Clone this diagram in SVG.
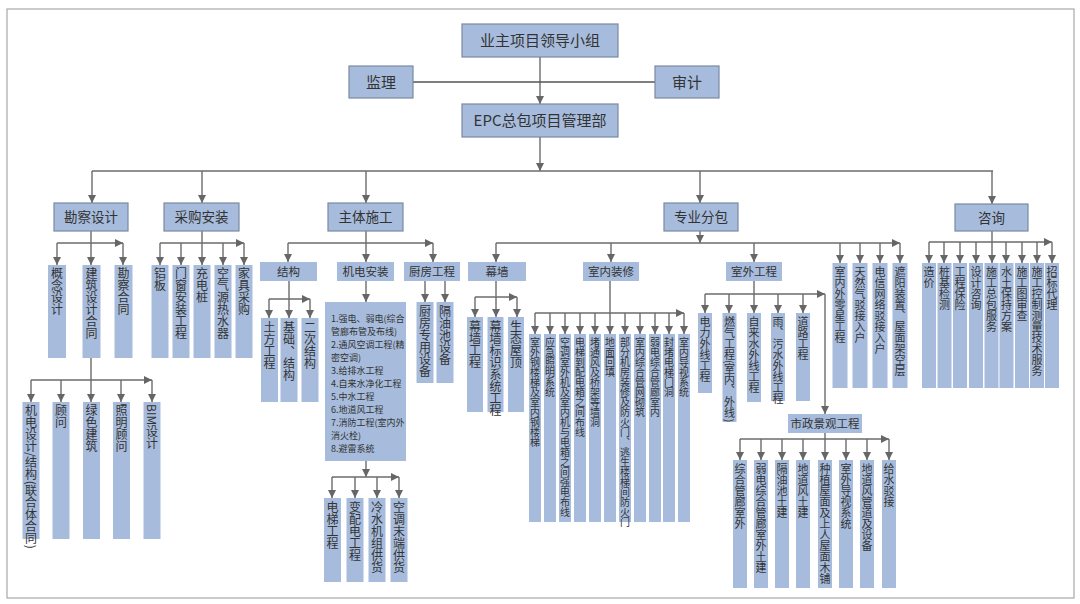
<svg xmlns="http://www.w3.org/2000/svg" width="1080" height="604" viewBox="0 0 1080 604">
<style>
text{font-family:"Noto Sans CJK SC","Noto Sans",sans-serif;fill:#333}
.bb{fill:#a7bcdc;stroke:#7b89a2;stroke-width:1.2}
.sb{fill:#a7bcdc}
.t15{font-size:15px;text-anchor:middle}
.t13{font-size:13.5px;text-anchor:middle}
.t11{font-size:11.5px;text-anchor:middle}
.v12{font-size:12px;writing-mode:vertical-rl}
.v11{font-size:11px;writing-mode:vertical-rl}
.v10{font-size:10px;writing-mode:vertical-rl}
.m9{font-size:9px}
.ln{fill:none;stroke:#6b6b6b;stroke-width:1.4}
.lk{fill:none;stroke:#555;stroke-width:1.6}
</style>
<defs>
<marker id="ar" markerUnits="userSpaceOnUse" markerWidth="8" markerHeight="8" refX="8" refY="4" orient="auto">
<path d="M0,0 L8,4 L0,8 z" fill="#666"/>
</marker>
</defs>
<rect x="0" y="0" width="1080" height="604" fill="#fff"/>
<rect x="7" y="9" width="1067" height="589" fill="none" stroke="#a8a8a8" stroke-width="1.2"/>

<g id="connectors">
<path class="ln" marker-end="url(#ar)" d="M540,57 V104"/>
<path class="lk" d="M413,82 H655"/>
<path class="ln" marker-end="url(#ar)" d="M540,137 V171"/>
<path class="ln" d="M92,171 H993"/>
<g marker-end="url(#ar)">
<path class="ln" d="M92,171 V203"/>
<path class="ln" d="M202,171 V203"/>
<path class="ln" d="M366,171 V203"/>
<path class="ln" d="M700,171 V203"/>
<path class="ln" d="M992,171 V204"/>
<!-- 勘察设计 -->
<path class="ln" d="M91,231 V265"/>
<path class="ln" d="M57,243 H123"/>
<path class="ln" d="M57,243 V265"/>
<path class="ln" d="M123,243 V265"/>
<path class="ln" d="M91,358 V402"/>
<path class="ln" d="M31,380 H152"/>
<path class="ln" d="M31,380 V402"/>
<path class="ln" d="M61,380 V402"/>
<path class="ln" d="M121,380 V402"/>
<path class="ln" d="M152,380 V402"/>
<!-- 采购安装 -->
<path class="ln" d="M202,231 V265"/>
<path class="ln" d="M160,243 H244"/>
<path class="ln" d="M160,243 V265"/>
<path class="ln" d="M181,243 V265"/>
<path class="ln" d="M223,243 V265"/>
<path class="ln" d="M244,243 V265"/>
<!-- 主体施工 -->
<path class="ln" d="M366,231 V262"/>
<path class="ln" d="M288,243 H433"/>
<path class="ln" d="M288,243 V262"/>
<path class="ln" d="M433,243 V262"/>
<path class="ln" d="M289,281 V318"/>
<path class="ln" d="M269,299 H310"/>
<path class="ln" d="M269,299 V318"/>
<path class="ln" d="M310,299 V318"/>
<path class="ln" d="M366,281 V302"/>
<path class="ln" d="M425,281 V302"/>
<path class="ln" d="M445,281 V302"/>
<path class="ln" d="M366,461 V477"/>
<path class="ln" d="M332,477 H399"/>
<path class="ln" d="M332,477 V498"/>
<path class="ln" d="M355,477 V498"/>
<path class="ln" d="M377,477 V498"/>
<path class="ln" d="M399,477 V498"/>
<!-- 专业分包 -->
<path class="ln" d="M700,231 V243"/>
<path class="ln" d="M496,243 H900"/>
<path class="ln" d="M496,243 V262"/>
<path class="ln" d="M611,243 V262"/>
<path class="ln" d="M754,243 V262"/>
<path class="ln" d="M840,243 V263"/>
<path class="ln" d="M860,243 V263"/>
<path class="ln" d="M880,243 V263"/>
<path class="ln" d="M900,243 V263"/>
<path class="ln" d="M496,281 V317"/>
<path class="ln" d="M475,297 H517"/>
<path class="ln" d="M475,297 V317"/>
<path class="ln" d="M517,297 V317"/>
<path class="ln" d="M610,281 V334"/>
<path class="ln" d="M535,313 H684"/>
<path class="ln" d="M535,313 V334"/>
<path class="ln" d="M550,313 V334"/>
<path class="ln" d="M565,313 V334"/>
<path class="ln" d="M580,313 V334"/>
<path class="ln" d="M595,313 V334"/>
<path class="ln" d="M625,313 V334"/>
<path class="ln" d="M640,313 V334"/>
<path class="ln" d="M655,313 V334"/>
<path class="ln" d="M669,313 V334"/>
<path class="ln" d="M684,313 V334"/>
<path class="ln" d="M754,281 V313"/>
<path class="ln" d="M705,294 H825"/>
<path class="ln" d="M705,294 V313"/>
<path class="ln" d="M729,294 V313"/>
<path class="ln" d="M778,294 V313"/>
<path class="ln" d="M803,294 V313"/>
<path class="ln" d="M825,294 V414"/>
<path class="ln" d="M825,433 V460"/>
<path class="ln" d="M740,439 H889"/>
<path class="ln" d="M740,439 V460"/>
<path class="ln" d="M761,439 V460"/>
<path class="ln" d="M782,439 V460"/>
<path class="ln" d="M803,439 V460"/>
<path class="ln" d="M846,439 V460"/>
<path class="ln" d="M867,439 V460"/>
<path class="ln" d="M889,439 V460"/>
<!-- 咨询 -->
<path class="ln" d="M992,231 V263"/>
<path class="ln" d="M929,242 H1052"/>
<path class="ln" d="M929,242 V263"/>
<path class="ln" d="M944,242 V263"/>
<path class="ln" d="M960,242 V263"/>
<path class="ln" d="M976,242 V263"/>
<path class="ln" d="M1006,242 V263"/>
<path class="ln" d="M1022,242 V263"/>
<path class="ln" d="M1037,242 V263"/>
<path class="ln" d="M1052,242 V263"/>
</g>
</g>

<!-- top level -->
<g id="n-owner"><rect class="bb" x="462" y="24" width="156" height="33"/><text class="t15" x="540" y="46">业主项目领导小组</text></g>
<g id="n-jianli"><rect class="bb" x="349" y="66" width="64" height="32"/><text class="t15" x="381" y="87.5">监理</text></g>
<g id="n-shenji"><rect class="bb" x="655" y="66" width="64" height="32"/><text class="t15" x="687" y="87.5">审计</text></g>
<g id="n-epc"><rect class="bb" x="462" y="104" width="156" height="33"/><text class="t15" x="540" y="126">EPC总包项目管理部</text></g>

<g id="n-kcsj"><rect class="bb" x="54" y="203" width="74" height="28"/><text class="t13" x="91" y="222">勘察设计</text></g>
<g id="n-cgaz"><rect class="bb" x="164" y="203" width="75" height="28"/><text class="t13" x="201.5" y="222">采购安装</text></g>
<g id="n-ztsg"><rect class="bb" x="328" y="203" width="75" height="28"/><text class="t13" x="365.5" y="222">主体施工</text></g>
<g id="n-zyfb"><rect class="bb" x="664" y="203" width="74" height="28"/><text class="t13" x="701" y="222">专业分包</text></g>
<g id="n-zx"><rect class="bb" x="955" y="204" width="73" height="27"/><text class="t13" x="991.5" y="222.5">咨询</text></g>

<!-- 勘察设计 children -->
<g id="n-gnsj"><rect class="sb" x="48" y="265" width="18" height="93"/><text class="v12" x="57" y="267">概念设计</text></g>
<g id="n-jzsjht"><rect class="sb" x="82.5" y="265" width="18" height="93"/><text class="v12" x="91.5" y="267">建筑设计合同</text></g>
<g id="n-kcht"><rect class="sb" x="114.5" y="265" width="18" height="93"/><text class="v12" x="123.5" y="267">勘察合同</text></g>
<g id="n-jdsj"><rect class="sb" x="22.5" y="402" width="17" height="137"/><text class="v12" x="31" y="404">机电设计/结构(联合体合同)</text></g>
<g id="n-gw"><rect class="sb" x="52.5" y="402" width="17" height="137"/><text class="v12" x="61" y="404">顾问</text></g>
<g id="n-lsjz"><rect class="sb" x="83" y="402" width="17" height="137"/><text class="v12" x="91.5" y="404">绿色建筑</text></g>
<g id="n-zmgw"><rect class="sb" x="113" y="402" width="17" height="137"/><text class="v12" x="121.5" y="404">照明顾问</text></g>
<g id="n-bim"><rect class="sb" x="143.5" y="402" width="17" height="137"/><text class="v12" x="152" y="404">BIM设计</text></g>

<!-- 采购安装 children -->
<g id="n-lb"><rect class="sb" x="151.5" y="265" width="17" height="93"/><text class="v12" x="160" y="267">铝板</text></g>
<g id="n-mc"><rect class="sb" x="172.5" y="265" width="17" height="93"/><text class="v12" x="181" y="267">门窗安装工程</text></g>
<g id="n-cdz"><rect class="sb" x="193.5" y="265" width="17" height="93"/><text class="v12" x="202" y="267">充电桩</text></g>
<g id="n-kqy"><rect class="sb" x="214.5" y="265" width="17" height="93"/><text class="v12" x="223" y="267">空气源热水器</text></g>
<g id="n-jjcg"><rect class="sb" x="235.5" y="265" width="17" height="93"/><text class="v12" x="244" y="267">家具采购</text></g>

<!-- 主体施工 children -->
<g id="n-jg"><rect class="sb" x="260" y="262" width="57" height="19"/><text class="t11" x="288.5" y="275.5">结构</text></g>
<g id="n-jdaz"><rect class="sb" x="337" y="262" width="57" height="19"/><text class="t11" x="365.5" y="275.5">机电安装</text></g>
<g id="n-cfgc"><rect class="sb" x="404" y="262" width="56" height="19"/><text class="t11" x="432" y="275.5">厨房工程</text></g>
<g id="n-tfgc"><rect class="sb" x="261" y="318" width="17" height="84"/><text class="v12" x="269.5" y="321">土方工程</text></g>
<g id="n-jcjg"><rect class="sb" x="280.5" y="318" width="17" height="84"/><text class="v12" x="289" y="321">基础、结构</text></g>
<g id="n-ecjg"><rect class="sb" x="301.5" y="318" width="17" height="84"/><text class="v12" x="310" y="321">二次结构</text></g>
<g id="n-cfzy"><rect class="sb" x="416.5" y="302" width="17" height="81"/><text class="v12" x="425" y="305">厨房专用设备</text></g>
<g id="n-gyc"><rect class="sb" x="436.5" y="302" width="17" height="81"/><text class="v12" x="445" y="305">隔油池设备</text></g>
<g id="n-jdlist"><rect class="sb" x="325" y="302" width="81" height="159"/>
<text class="m9" x="331" y="321.5">1.强电、弱电(综合</text>
<text class="m9" x="331" y="334.5">管廊布管及布线)</text>
<text class="m9" x="331" y="347.5">2.通风空调工程(精</text>
<text class="m9" x="331" y="360.5">密空调)</text>
<text class="m9" x="331" y="373.5">3.给排水工程</text>
<text class="m9" x="331" y="386.5">4.自来水净化工程</text>
<text class="m9" x="331" y="399.5">5.中水工程</text>
<text class="m9" x="331" y="412.5">6.地道风工程</text>
<text class="m9" x="331" y="425.5">7.消防工程(室内外</text>
<text class="m9" x="331" y="438.5">消火栓)</text>
<text class="m9" x="331" y="451.5">8.避雷系统</text>
</g>
<g id="n-dtgc"><rect class="sb" x="324" y="498" width="17" height="84"/><text class="v12" x="332.5" y="501">电梯工程</text></g>
<g id="n-bpd"><rect class="sb" x="346.5" y="498" width="17" height="84"/><text class="v12" x="355" y="501">变配电工程</text></g>
<g id="n-lsjz2"><rect class="sb" x="368.5" y="498" width="17" height="84"/><text class="v12" x="377" y="501">冷水机组供货</text></g>
<g id="n-ktmd"><rect class="sb" x="390.5" y="498" width="17" height="84"/><text class="v12" x="399" y="501">空调末端供货</text></g>

<!-- 专业分包 children -->
<g id="n-mq"><rect class="sb" x="468" y="262" width="58" height="19"/><text class="t11" x="497" y="275.5">幕墙</text></g>
<g id="n-snzx"><rect class="sb" x="583" y="262" width="56" height="19"/><text class="t11" x="611" y="275.5">室内装修</text></g>
<g id="n-swgc"><rect class="sb" x="726" y="262" width="56" height="19"/><text class="t11" x="754" y="275.5">室外工程</text></g>
<g id="n-snwlx"><rect class="sb" x="832.5" y="263" width="15" height="125"/><text class="v11" x="840" y="266">室内外零星工程</text></g>
<g id="n-trq"><rect class="sb" x="852.5" y="263" width="15" height="125"/><text class="v11" x="860" y="266">天然气驳接入户</text></g>
<g id="n-dxwl"><rect class="sb" x="872.5" y="263" width="15" height="125"/><text class="v11" x="880" y="266">电信网络驳接入户</text></g>
<g id="n-zyzz"><rect class="sb" x="892.5" y="263" width="15" height="125"/><text class="v11" x="900" y="266">遮阳装置、屋面架空层</text></g>

<g id="n-mqgc"><rect class="sb" x="467" y="317" width="16" height="95"/><text class="v12" x="475" y="320">幕墙工程</text></g>
<g id="n-mqbs"><rect class="sb" x="487.5" y="317" width="16" height="95"/><text class="v12" x="495.5" y="320">幕墙标识系统工程</text></g>
<g id="n-stwd"><rect class="sb" x="508" y="317" width="16" height="95"/><text class="v12" x="516" y="320">生态屋顶</text></g>

<g id="n-sn1"><rect class="sb" x="529" y="334" width="12" height="188"/><text class="v10" x="535" y="337">室外钢楼梯及室内钢楼梯</text></g>
<g id="n-sn2"><rect class="sb" x="544" y="334" width="12" height="188"/><text class="v10" x="550" y="337">应急照明系统</text></g>
<g id="n-sn3"><rect class="sb" x="559" y="334" width="12" height="188"/><text class="v10" x="565" y="337">空调室外机及室内机与电箱之间强电布线</text></g>
<g id="n-sn4"><rect class="sb" x="574" y="334" width="12" height="188"/><text class="v10" x="580" y="337">电梯到配电箱之间布线</text></g>
<g id="n-sn5"><rect class="sb" x="589" y="334" width="12" height="188"/><text class="v10" x="595" y="337">堵通风及桥架等墙洞</text></g>
<g id="n-sn6"><rect class="sb" x="604" y="334" width="12" height="188"/><text class="v10" x="610" y="337">地面回填</text></g>
<g id="n-sn7"><rect class="sb" x="619" y="334" width="12" height="188"/><text class="v10" x="625" y="337">部分机房装修及防火门、逃生楼梯间防火门</text></g>
<g id="n-sn8"><rect class="sb" x="634" y="334" width="12" height="188"/><text class="v10" x="640" y="337">室内综合管网砌筑</text></g>
<g id="n-sn9"><rect class="sb" x="649" y="334" width="12" height="188"/><text class="v10" x="655" y="337">弱电综合管廊室内</text></g>
<g id="n-sn10"><rect class="sb" x="663" y="334" width="12" height="188"/><text class="v10" x="669" y="337">封堵电梯门洞</text></g>
<g id="n-sn11"><rect class="sb" x="678" y="334" width="12" height="188"/><text class="v10" x="684" y="337">室内导视系统</text></g>

<g id="n-dlwx"><rect class="sb" x="698" y="313" width="14" height="80"/><text class="v11" x="705" y="316">电力外线工程</text></g>
<g id="n-rqgc"><rect class="sb" x="722.5" y="313" width="14" height="109"/><text class="v11" x="729.5" y="316">燃气工程(室内、外线)</text></g>
<g id="n-zls"><rect class="sb" x="747" y="313" width="14" height="89"/><text class="v11" x="754" y="316">自来水外线工程</text></g>
<g id="n-ywx"><rect class="sb" x="771" y="313" width="14" height="88"/><text class="v11" x="778" y="316">雨、污水外线工程</text></g>
<g id="n-dlgc"><rect class="sb" x="796" y="313" width="14" height="88"/><text class="v11" x="803" y="316">道路工程</text></g>
<g id="n-szjg"><rect class="sb" x="788" y="414" width="74" height="19"/><text class="t11" x="825" y="427.5">市政景观工程</text></g>

<g id="n-sz1"><rect class="sb" x="733" y="460" width="14" height="128"/><text class="v11" x="740" y="463">综合管廊室外</text></g>
<g id="n-sz2"><rect class="sb" x="754" y="460" width="14" height="128"/><text class="v11" x="761" y="463">弱电综合管廊室外土建</text></g>
<g id="n-sz3"><rect class="sb" x="775" y="460" width="14" height="128"/><text class="v11" x="782" y="463">隔油池土建</text></g>
<g id="n-sz4"><rect class="sb" x="796" y="460" width="14" height="128"/><text class="v11" x="803" y="463">地道风土建</text></g>
<g id="n-sz5"><rect class="sb" x="818" y="460" width="14" height="128"/><text class="v11" x="825" y="463">种植屋面及上人屋面木铺</text></g>
<g id="n-sz6"><rect class="sb" x="839" y="460" width="14" height="128"/><text class="v11" x="846" y="463">室外导视系统</text></g>
<g id="n-sz7"><rect class="sb" x="860" y="460" width="14" height="128"/><text class="v11" x="867" y="463">地道风管道及设备</text></g>
<g id="n-sz8"><rect class="sb" x="882" y="460" width="14" height="128"/><text class="v11" x="889" y="463">给水驳接</text></g>

<!-- 咨询 children -->
<g id="n-zj"><rect class="sb" x="922" y="263" width="14" height="125"/><text class="v11" x="929" y="266">造价</text></g>
<g id="n-zjjc"><rect class="sb" x="937.5" y="263" width="14" height="125"/><text class="v11" x="944.5" y="266">桩基检测</text></g>
<g id="n-gcbx"><rect class="sb" x="953" y="263" width="14" height="125"/><text class="v11" x="960" y="266">工程保险</text></g>
<g id="n-sjzx"><rect class="sb" x="969" y="263" width="14" height="125"/><text class="v11" x="976" y="266">设计咨询</text></g>
<g id="n-sgzb"><rect class="sb" x="984.5" y="263" width="14" height="125"/><text class="v11" x="991.5" y="266">施工总包服务</text></g>
<g id="n-stbc"><rect class="sb" x="999.5" y="263" width="14" height="125"/><text class="v11" x="1006.5" y="266">水土保持方案</text></g>
<g id="n-sgtsc"><rect class="sb" x="1015" y="263" width="14" height="125"/><text class="v11" x="1022" y="266">施工图审查</text></g>
<g id="n-sgkz"><rect class="sb" x="1030" y="263" width="14" height="125"/><text class="v11" x="1037" y="266">施工控制测量技术服务</text></g>
<g id="n-zbdl"><rect class="sb" x="1045" y="263" width="14" height="125"/><text class="v11" x="1052" y="266">招标代理</text></g>
</svg>
